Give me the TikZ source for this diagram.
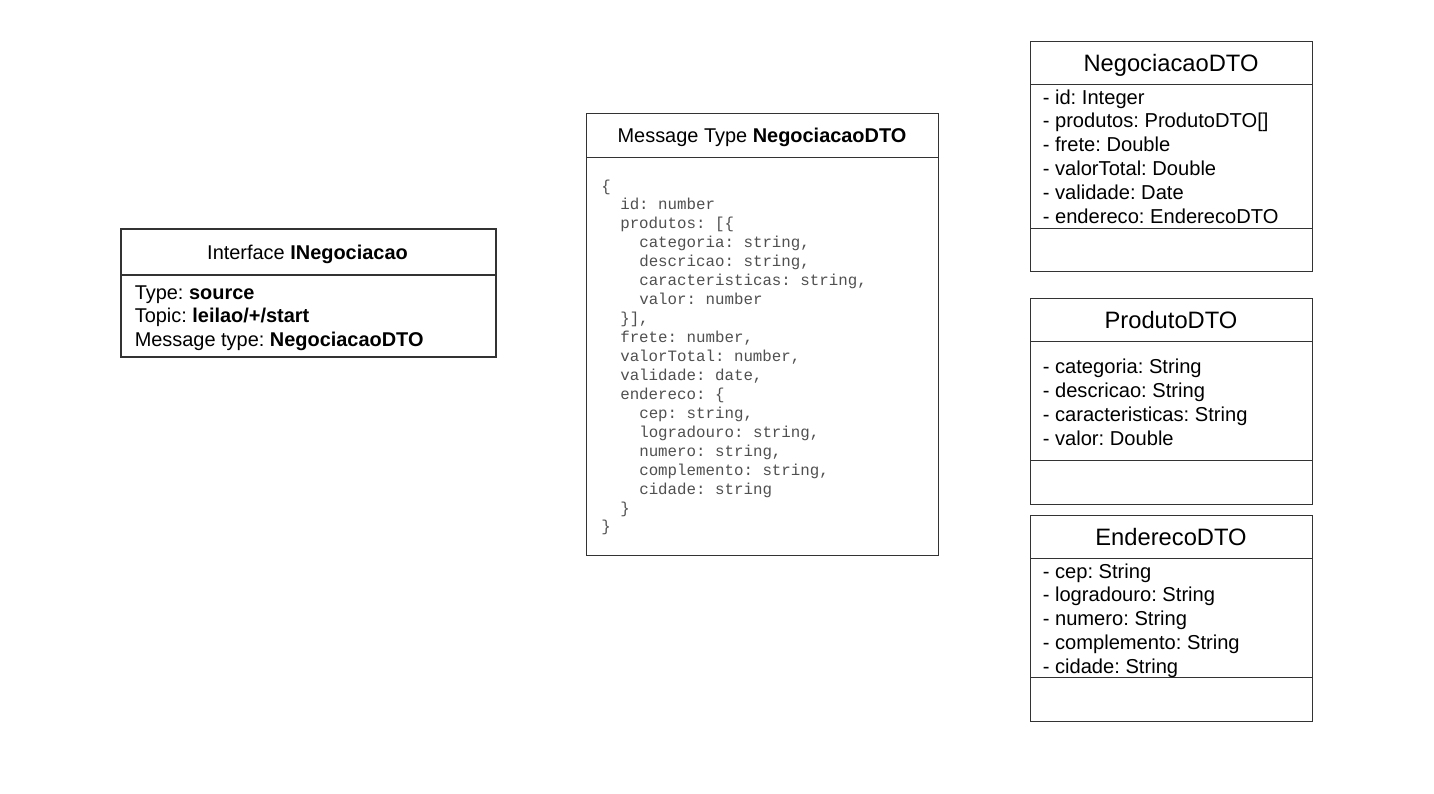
\documentclass[tikz,border=0pt]{standalone}
\usepackage{fontspec}
\setmainfont{Liberation Sans}
\newfontfamily\monofont{Liberation Mono}
\frenchspacing
\definecolor{boxline}{HTML}{333333}
\definecolor{monotext}{HTML}{505050}
\tikzset{
  x=0.75pt, y=-0.75pt,
  boxthin/.style={draw=boxline, line width=0.75pt, inner sep=0pt, anchor=north west},
  boxthick/.style={draw=boxline, line width=1.5pt, inner sep=0pt, anchor=north west},
  septhin/.style={draw=boxline, line width=0.75pt},
  septhick/.style={draw=boxline, line width=1.5pt},
  ttl/.style={inner sep=0pt, anchor=base, font=\frenchspacing\fontsize{17.8pt}{21pt}\selectfont},
  hdr/.style={inner sep=0pt, anchor=base, font=\frenchspacing\fontsize{14.95pt}{17.5pt}\selectfont},
  attr/.style={inner sep=0pt, anchor=base west, font=\frenchspacing\fontsize{15.1pt}{18pt}\selectfont},
  iattr/.style={inner sep=0pt, anchor=base west, font=\frenchspacing\fontsize{14.95pt}{17.5pt}\selectfont},
  code/.style={inner sep=0pt, anchor=base west, text=monotext, font=\monofont\frenchspacing\fontsize{11.85pt}{14.2pt}\selectfont},
}
\begin{document}
\begin{tikzpicture}
\useasboundingbox[fill=white] (0,0) rectangle (1434,793);

% ---------- Interface INegociacao ----------
\node[boxthick, minimum width=375*0.75pt, minimum height=128*0.75pt] (ibox) at (120,228) {};
\draw[septhick] (ibox.west |- 0,275) -- (ibox.east |- 0,275);
\node[hdr] (ititle) at (307.5,259.5) {Interface \textbf{INegociacao}};
\node[iattr] (i1) at (134.5,299.5) {Type: \textbf{source}};
\node[iattr] (i2) at (134.5,322.5) {Topic: \textbf{leilao/+/start}};
\node[iattr] (i3) at (134.5,346) {Message type: \textbf{NegociacaoDTO}};

% ---------- Message Type NegociacaoDTO ----------
\node[boxthin, line width=0.9pt, minimum width=352*0.75pt, minimum height=442*0.75pt] (mbox) at (586,113) {};
\draw[septhin, line width=0.9pt] (mbox.west |- 0,157.5) -- (mbox.east |- 0,157.5);
\node[hdr] (mtitle) at (762,142) {Message Type \textbf{NegociacaoDTO}};
\node[code] (m1)  at (601,191.0) {\{};
\node[code] (m2)  at (620,209.9) {id: number};
\node[code] (m3)  at (620,228.9) {produtos: [\{};
\node[code] (m4)  at (639,247.8) {categoria: string,};
\node[code] (m5)  at (639,266.8) {descricao: string,};
\node[code] (m6)  at (639,285.7) {caracteristicas: string,};
\node[code] (m7)  at (639,304.6) {valor: number};
\node[code] (m8)  at (620,323.6) {\}],};
\node[code] (m9)  at (620,342.5) {frete: number,};
\node[code] (m10) at (620,361.5) {valorTotal: number,};
\node[code] (m11) at (620,380.4) {validade: date,};
\node[code] (m12) at (620,399.3) {endereco: \{};
\node[code] (m13) at (639,418.3) {cep: string,};
\node[code] (m14) at (639,437.2) {logradouro: string,};
\node[code] (m15) at (639,456.2) {numero: string,};
\node[code] (m16) at (639,475.1) {complemento: string,};
\node[code] (m17) at (639,494.0) {cidade: string};
\node[code] (m18) at (620,513.0) {\}};
\node[code] (m19) at (601,531.9) {\}};

% ---------- NegociacaoDTO ----------
\node[boxthin, minimum width=282*0.75pt, minimum height=230*0.75pt] (nbox) at (1030,41) {};
\draw[septhin] (nbox.west |- 0,84) -- (nbox.east |- 0,84);
\draw[septhin] (nbox.west |- 0,228) -- (nbox.east |- 0,228);
\node[ttl] (ntitle) at (1171,71.5) {NegociacaoDTO};
\node[attr] (n1) at (1042.5,104.0) {- id: Integer};
\node[attr] (n2) at (1042.5,127.9) {- produtos: ProdutoDTO[]};
\node[attr] (n3) at (1042.5,151.8) {- frete: Double};
\node[attr] (n4) at (1042.5,175.7) {- valorTotal: Double};
\node[attr] (n5) at (1042.5,199.6) {- validade: Date};
\node[attr] (n6) at (1042.5,223.5) {- endereco: EnderecoDTO};

% ---------- ProdutoDTO ----------
\node[boxthin, minimum width=282*0.75pt, minimum height=206*0.75pt] (pbox) at (1030,298) {};
\draw[septhin] (pbox.west |- 0,341) -- (pbox.east |- 0,341);
\draw[septhin] (pbox.west |- 0,460) -- (pbox.east |- 0,460);
\node[ttl] (ptitle) at (1171,328.5) {ProdutoDTO};
\node[attr] (p1) at (1042.5,373.5) {- categoria: String};
\node[attr] (p2) at (1042.5,397.4) {- descricao: String};
\node[attr] (p3) at (1042.5,421.3) {- caracteristicas: String};
\node[attr] (p4) at (1042.5,445.2) {- valor: Double};

% ---------- EnderecoDTO ----------
\node[boxthin, minimum width=282*0.75pt, minimum height=206*0.75pt] (ebox) at (1030,515) {};
\draw[septhin] (ebox.west |- 0,558) -- (ebox.east |- 0,558);
\draw[septhin] (ebox.west |- 0,677) -- (ebox.east |- 0,677);
\node[ttl] (etitle) at (1171,545.5) {EnderecoDTO};
\node[attr] (e1) at (1042.5,578.0) {- cep: String};
\node[attr] (e2) at (1042.5,601.9) {- logradouro: String};
\node[attr] (e3) at (1042.5,625.8) {- numero: String};
\node[attr] (e4) at (1042.5,649.7) {- complemento: String};
\node[attr] (e5) at (1042.5,673.6) {- cidade: String};
\end{tikzpicture}
\end{document}
